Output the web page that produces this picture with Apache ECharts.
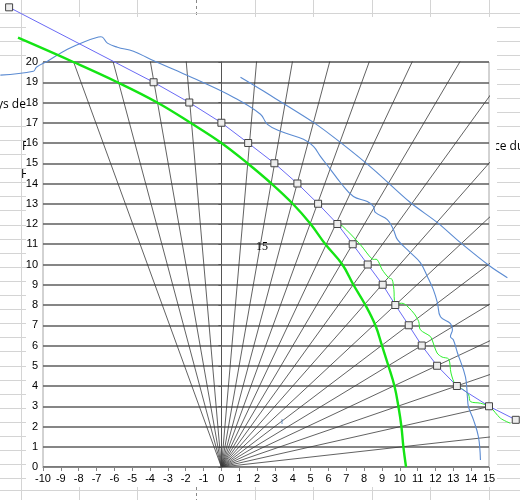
<!DOCTYPE html>
<html>
<head>
<meta charset="utf-8">
<script src="https://cdn.jsdelivr.net/npm/echarts@6/dist/echarts.min.js"></script>
<style>
  html, body { margin: 0; padding: 0; background: #fff; }
  #main { width: 520px; height: 500px; }
</style>
</head>
<body>
<div id="main"></div>
<script>
// rayons depuis l'origine (degres)
const rayAngles = [5.625, 11.25, 16.875, 22.5, 28.125, 33.75, 39.375, 45, 50.625, 56.25,
  61.875, 67.5, 73.125, 78.75, 84.375, 95.625, 101.25, 106.875, 112.5];

// courbe bleue avec marqueurs
const blueX = [-11.9, -3.8, -1.8, 0, 1.5, 2.97, 4.26, 5.42, 6.5, 7.36, 8.2, 9.04, 9.75, 10.5, 11.23, 12.09, 13.2, 15, 16.5];
const blueY = [22.7, 19, 18, 17, 16, 15, 14, 13, 12, 11, 10, 9, 8, 7, 6, 5, 4, 3, 2.33];

// courbe verte epaisse
const greenX = [-11.4, -8.3, -5.83, -3.6, -1.74, 0, 1.46, 2.8, 4.0, 5.0, 5.83, 6.78, 7.4, 8.07, 8.63, 9.0, 9.36, 9.7, 9.92, 10.09, 10.2, 10.35];
const greenY = [21.2, 20, 19, 18, 17, 16, 15, 14, 13, 12, 11, 10, 9, 8, 7, 6, 5, 4, 3, 2, 1, 0];

// courbe verte fine
const thinGreenX = [6.5, 6.77, 7.79, 8.45, 8.73, 9.01, 9.38, 9.57, 9.67, 9.75, 10.22, 10.78, 11.06, 11.15, 11.71, 11.81,
  12.09, 12.37, 12.74, 12.87, 13.12, 13.58, 13.86, 13.96, 14.52, 15.04, 15.64, 16.2];
const thinGreenY = [12, 11.91, 10.98, 10.27, 10.24, 9.75, 9.34, 9.26, 8.76, 8.10, 8.07, 7.6, 7.18, 6.78, 6.45, 6.28,
  5.63, 5.43, 5.33, 4.64, 4.06, 3.81, 3.56, 3.23, 3.15, 2.98, 2.41, 2.16];

// traits bleus dessines a main levee
const wavyX = [-12.39, -10.54, -10.37, -9.75, -8.63, -7.74, -6.89, -6.67, -6.39, -5.83, -4.93, -3.98, -2.69, -1.18, 0.67,
  2.19, 2.58, 3.31, 4.60, 5.16, 5.55, 6.11, 6.67, 7.40, 8.18, 8.52, 8.63, 9.30, 9.64, 9.87, 10.59, 11.15, 11.55, 11.88,
  12.11, 12.28, 12.84, 12.95, 12.84, 13.00, 13.23, 13.68, 13.79, 13.85, 14.13, 14.41, 14.52];
const wavyY = [19.35, 19.54, 19.74, 20.04, 20.63, 20.98, 21.23, 21.23, 20.93, 20.73, 20.53, 20.14, 19.64, 19.05, 18.26,
  17.42, 16.92, 16.58, 16.18, 15.83, 15.34, 14.70, 14.05, 13.36, 13.11, 12.87, 12.57, 12.22, 11.73, 11.23, 10.59, 10.09, 9.40, 8.76,
  8.11, 7.42, 7.08, 6.78, 6.43, 6.28, 5.64, 4.45, 3.46, 2.97, 2.33, 1.48, 0.35];
const straightX = [1.07, 2.19, 5.16, 6.67, 8.52, 10.59, 12.11, 13.40, 15.08, 16.03];
const straightY = [19.25, 18.65, 17.02, 16.03, 14.70, 13.06, 12.07, 11.08, 9.90, 9.35];

const zip = (xs, ys) => xs.map((x, i) => [x, ys[i]]);

// trace libre (non coupe par la zone de trace)
function curve(xs, ys, color, width, smooth, z) {
  const pts = zip(xs, ys);
  return {
    type: 'custom', data: [0], clip: false, silent: true, z: z,
    renderItem: (params, api) => ({
      type: 'polyline',
      shape: { points: pts.map(p => api.coord(p)), smooth: smooth },
      style: { stroke: color, lineWidth: width, fill: null }
    })
  };
}

const series = [];
rayAngles.forEach(a => {
  const r = a * Math.PI / 180;
  series.push({
    type: 'line', data: [[0, 0], [40 * Math.cos(r), 40 * Math.sin(r)]],
    showSymbol: false, silent: true, clip: true, z: 1,
    lineStyle: { color: '#3a3a3a', width: 0.8 }
  });
});
series.push(curve(wavyX, wavyY, '#5b8bd2', 1.1, 0.4, 2));
series.push(curve(straightX, straightY, '#5b8bd2', 1.1, 0.3, 2));
series.push(curve(greenX, greenY, '#14e414', 2.4, 0.4, 3));
series.push(curve(thinGreenX, thinGreenY, '#2ef02e', 1, 0.3, 3));
series.push(curve(blueX, blueY, '#6a6af5', 1, 0, 4));
series.push({
  type: 'scatter', data: zip(blueX, blueY), clip: false, z: 5,
  symbol: 'rect', symbolSize: 7,
  itemStyle: { color: '#ececec', borderColor: '#444', borderWidth: 1, opacity: 1 }
});

// feuille de calcul en fond
const colLines = [21, 79, 137, 196, 255, 313, 372, 430, 489];
const bg = [];
colLines.forEach(x => {
  const dash = x === 196;
  const st = { stroke: dash ? '#888' : '#d4d4d4', lineWidth: 1, lineDash: dash ? [3, 3] : null };
  bg.push({ type: 'line', z: -20, shape: { x1: x + 0.5, y1: 0, x2: x + 0.5, y2: 17 }, style: st });
  bg.push({ type: 'line', z: -20, shape: { x1: x + 0.5, y1: 487, x2: x + 0.5, y2: 500 }, style: st });
});
bg.push({ type: 'line', z: -20, shape: { x1: 21.5, y1: 0, x2: 21.5, y2: 500 }, style: { stroke: '#d4d4d4', lineWidth: 1 } });
bg.push({ type: 'line', z: -20, shape: { x1: 0, y1: 13.5, x2: 520, y2: 13.5 }, style: { stroke: '#d4d4d4', lineWidth: 1 } });
bg.push({ type: 'line', z: -20, shape: { x1: 0, y1: 490.5, x2: 520, y2: 490.5 }, style: { stroke: '#d4d4d4', lineWidth: 1 } });
for (let k = 1; k < 34; k++) {
  const y = Math.round(13 + 14.1 * k) + 0.5;
  if (!(y > 60 && y < 116)) {
    bg.push({ type: 'line', z: -20, shape: { x1: 0, y1: y, x2: 26, y2: y }, style: { stroke: '#d4d4d4', lineWidth: 1 } });
  }
  if (!(y > 135 && y < 160)) {
    bg.push({ type: 'line', z: -20, shape: { x1: 497, y1: y, x2: 520, y2: y }, style: { stroke: '#d4d4d4', lineWidth: 1 } });
  }
}
const cellFont = '12px "Open Sans", sans-serif';
bg.push({ type: 'text', z: -19, style: { text: 'ys de C', x: -3, y: 105, font: cellFont, fill: '#000', verticalAlign: 'middle' } });
bg.push({ type: 'text', z: -19, style: { text: 'F', x: 22, y: 147, font: cellFont, fill: '#000', verticalAlign: 'middle' } });
bg.push({ type: 'text', z: -19, style: { text: 'H', x: 21, y: 175, font: cellFont, fill: '#000', verticalAlign: 'middle' } });
bg.push({ type: 'text', z: -19, style: { text: 'ce du', x: 494, y: 147, font: cellFont, fill: '#000', verticalAlign: 'middle' } });
// zone du graphique
bg.push({ type: 'rect', z: -10, shape: { x: 26, y: 17, width: 470, height: 470 }, style: { fill: '#fff' } });
bg.push({ type: 'text', z: 10, style: { text: '15', x: 262, y: 247, font: '12px "Liberation Serif", serif', fill: '#000', align: 'center', verticalAlign: 'middle' } });
bg.push({ type: 'text', z: 10, style: { text: 'ı', x: 282, y: 422, font: '9px sans-serif', fill: '#4f81bd', align: 'center', verticalAlign: 'middle' } });

const chart = echarts.init(document.getElementById('main'));
chart.setOption({
  animation: false,
  backgroundColor: '#fff',
  graphic: { elements: bg },
  grid: { left: 43, right: 31, top: 62, bottom: 33, show: true, borderColor: '#a6a6a6', borderWidth: 1 },
  xAxis: {
    type: 'value', min: -10, max: 15, interval: 1,
    axisLine: { lineStyle: { color: '#868686' } },
    axisTick: { show: true, length: 4, lineStyle: { color: '#868686' } },
    axisLabel: { color: '#000', fontSize: 11, margin: 6, fontFamily: 'Liberation Sans' },
    splitLine: { show: false }
  },
  yAxis: {
    type: 'value', min: 0, max: 20, interval: 1,
    axisLine: { onZero: true, lineStyle: { color: '#555' } },
    axisTick: { show: true, length: 3, lineStyle: { color: '#555' } },
    axisLabel: { color: '#000', fontSize: 11, margin: 5, fontFamily: 'Liberation Sans' },
    splitLine: { show: true, lineStyle: { color: '#5e5e5e', width: 1.5 } }
  },
  series: series
});
</script>
</body>
</html>
